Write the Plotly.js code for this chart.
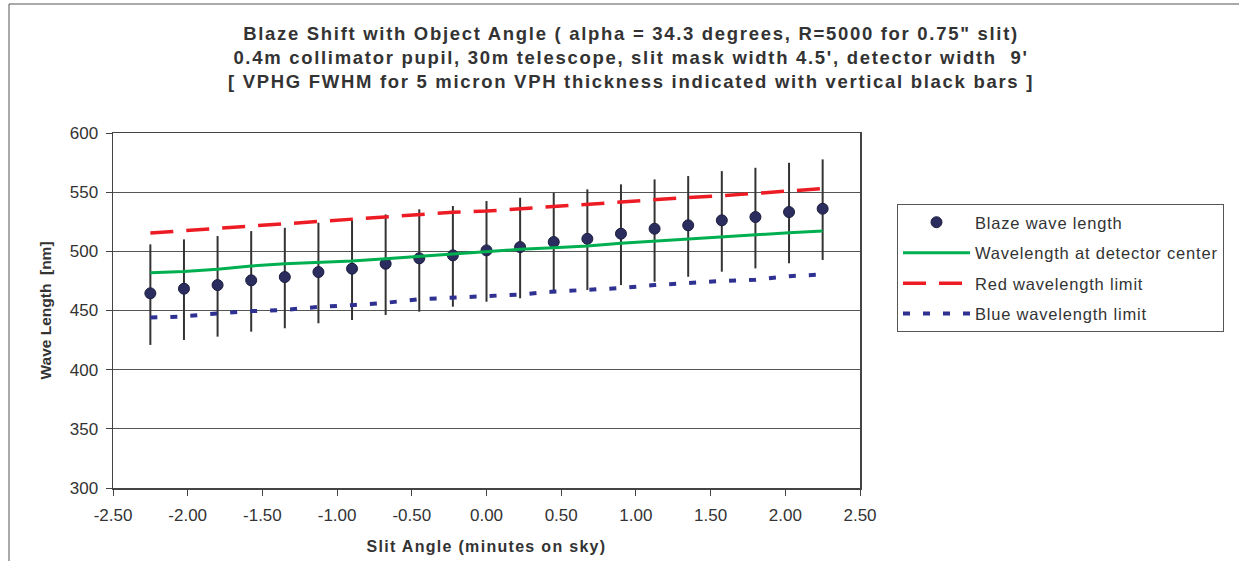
<!DOCTYPE html>
<html>
<head>
<meta charset="utf-8">
<script src="https://cdn.plot.ly/plotly-3.0.1.min.js"></script>
<style>
  html, body { margin: 0; padding: 0; background: #ffffff; }
  #chart { width: 1239px; height: 561px; }
  .gtitle { letter-spacing: 1.7px; }
  .legendtext { letter-spacing: 0.8px; }
  .xtitle { letter-spacing: 1.3px; }
</style>
</head>
<body>
<div id="chart"></div>
<script>
// Slit angle (minutes on sky)
const slitAngle = [-2.25, -2.025, -1.8, -1.575, -1.35, -1.125, -0.9, -0.675, -0.45, -0.225, 0,
                   0.225, 0.45, 0.675, 0.9, 1.125, 1.35, 1.575, 1.8, 2.025, 2.25];
// Blaze wavelength (nm)
const blazeWavelength = [464.5, 468.4, 471.5, 475.5, 478.3, 482.5, 485.3, 489.5, 494.1, 496.6, 500.8,
                         503.6, 507.9, 510.6, 514.9, 519.1, 522.0, 526.2, 529.0, 533.2, 536.0];
// VPHG FWHM upper / lower ends (nm)
const fwhmUpper = [505.9, 510.1, 512.9, 517.1, 519.9, 524.2, 526.4, 531.2, 535.5, 538.3, 542.5,
                   545.3, 549.5, 552.4, 556.6, 560.8, 563.6, 567.8, 570.6, 574.8, 577.7];
const fwhmLower = [420.9, 425.1, 427.9, 432.1, 435.0, 439.2, 442.0, 446.2, 449.0, 453.2, 457.4,
                   460.3, 464.5, 467.3, 471.5, 474.3, 478.5, 482.8, 485.6, 489.9, 492.7];
// Wavelength at detector center (nm)
const centerWavelength = [482.0, 483.0, 484.8, 487.6, 489.5, 490.5, 491.8, 493.8, 495.8, 497.5, 500.0,
                          501.7, 503.1, 504.5, 506.8, 508.7, 510.1, 512.3, 514.3, 515.7, 517.1];
// Red wavelength limit (nm)
const redLimit = [515.5, 517.5, 519.5, 521.5, 523.5, 525.5, 527.5, 529.5, 531.0, 533.0, 534.0,
                  536.0, 538.0, 539.5, 541.5, 543.5, 545.5, 547.0, 549.0, 551.0, 553.0];
// Blue wavelength limit (nm)
const blueLimit = [444.0, 445.0, 447.5, 449.5, 450.5, 453.0, 454.5, 456.5, 459.5, 461.0, 462.5,
                   463.5, 466.0, 467.5, 469.0, 471.5, 473.5, 475.0, 476.0, 479.0, 480.5];

const seriesNames = ["Blaze wave length", "Wavelength at detector center",
                     "Red wavelength limit", "Blue wavelength limit"];

// Axis tick labels
const xTickValues = [-2.5, -2.0, -1.5, -1.0, -0.5, 0, 0.5, 1.0, 1.5, 2.0, 2.5];
const xTickLabels = ['-2.50', '-2.00', '-1.50', '-1.00', '-0.50', '0.00', '0.50', '1.00', '1.50', '2.00', '2.50'];
const yTickValues = [300, 350, 400, 450, 500, 550, 600];
const yTickLabels = ['300', '350', '400', '450', '500', '550', '600'];

const errPlus = fwhmUpper.map((v, i) => v - blazeWavelength[i]);
const errMinus = blazeWavelength.map((v, i) => v - fwhmLower[i]);

const traces = [
  {
    x: slitAngle, y: blazeWavelength, type: 'scatter', mode: 'markers', name: seriesNames[0],
    legendgroup: 'a',
    marker: { color: '#2b2d5e', size: 11, line: { color: '#1c1d3d', width: 1 } },
    error_y: { type: 'data', symmetric: false, array: errPlus, arrayminus: errMinus,
               color: '#333333', thickness: 2, width: 0 }
  },
  {
    x: slitAngle, y: centerWavelength, type: 'scatter', mode: 'lines', name: seriesNames[1],
    legendgroup: 'b',
    line: { color: '#00b050', width: 3 }
  },
  {
    x: slitAngle, y: redLimit, type: 'scatter', mode: 'lines', name: seriesNames[2],
    legendgroup: 'c',
    line: { color: '#ed1c24', width: 3.5, dash: '23px,13px' }
  },
  {
    x: slitAngle, y: blueLimit, type: 'scatter', mode: 'lines', name: seriesNames[3],
    legendgroup: 'd',
    line: { color: '#2e3192', width: 4, dash: '7px,13px' }
  }
];

const L = 113, R = 379, T = 133, B = 73;
const PW = 1239 - L - R, PH = 561 - T - B;
const FONT = 'Liberation Sans, Arial, sans-serif';

const layout = {
  width: 1239, height: 561,
  margin: { l: L, r: R, t: T, b: B, pad: 0 },
  paper_bgcolor: '#ffffff', plot_bgcolor: '#ffffff',
  font: { family: FONT, color: '#333333', size: 16 },
  title: {
    text: 'Blaze Shift with Object Angle ( alpha = 34.3 degrees, R=5000 for 0.75" slit)<br>' +
          "0.4m collimator pupil, 30m telescope, slit mask width 4.5', detector width  9'<br>" +
          '[ VPHG FWHM for 5 micron VPH thickness indicated with vertical black bars ]',
    font: { family: FONT, size: 18.5, color: '#333333', weight: 'bold' },
    xref: 'container', x: 631 / 1239, xanchor: 'center',
    yref: 'container', y: 1 - 40 / 561, yanchor: 'top'
  },
  showlegend: true,
  legend: {
    x: (897 - L) / PW, xanchor: 'left',
    y: (561 - B - 204) / PH, yanchor: 'top',
    bgcolor: '#ffffff', bordercolor: '#555555', borderwidth: 1,
    font: { family: FONT, size: 16.5, color: '#333333' },
    traceorder: 'grouped', tracegroupgap: 6, itemwidth: 67
  },
  xaxis: {
    range: [-2.5, 2.5], tickmode: 'array', tickvals: xTickValues, ticktext: xTickLabels,
    showgrid: false, zeroline: false,
    showline: true, linecolor: '#444444', linewidth: 1.5, mirror: true,
    ticks: 'outside', ticklen: 6, tickcolor: '#444444', tickwidth: 1,
    ticklabelstandoff: 5,
    tickfont: { family: FONT, size: 17, color: '#333333' },
    title: { text: 'Slit Angle (minutes on sky)', standoff: 17,
             font: { family: FONT, size: 16, color: '#333333', weight: 'bold' } }
  },
  yaxis: {
    range: [300, 600], tickmode: 'array', tickvals: yTickValues, ticktext: yTickLabels,
    showgrid: true, gridcolor: '#555555', gridwidth: 1, zeroline: false,
    showline: true, linecolor: '#444444', linewidth: 1.5, mirror: true,
    ticks: 'outside', ticklen: 6, tickcolor: '#444444', tickwidth: 1,
    ticklabelstandoff: 4,
    tickfont: { family: FONT, size: 17, color: '#333333' },
    title: { text: 'Wave Length  [nm]', standoff: 14,
             font: { family: FONT, size: 15.5, color: '#333333', weight: 'bold' } }
  },
  shapes: [
    { type: 'line', xref: 'paper', yref: 'paper',
      x0: (9 - L) / PW, x1: (9 - L) / PW, y0: -1, y1: (561 - B - 4) / PH,
      line: { color: '#555555', width: 1 } },
    { type: 'line', xref: 'paper', yref: 'paper',
      x0: (9 - L) / PW, x1: 2, y0: (561 - B - 4) / PH, y1: (561 - B - 4) / PH,
      line: { color: '#555555', width: 1 } }
  ]
};

Plotly.newPlot('chart', traces, layout, { displayModeBar: false, staticPlot: true });
</script>
</body>
</html>
